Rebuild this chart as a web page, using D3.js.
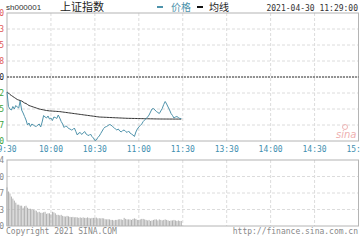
<!DOCTYPE html>
<html>
<head>
<meta charset="utf-8">
<script src="https://cdn.jsdelivr.net/npm/d3@7"></script>
<style>
body { margin: 0; background: #fff; }
</style>
</head>
<body>
<script>
// 上证指数 minute data, 9:30 - 11:29
var prevClose = 3474.90;
var priceTicks = ["3509.20", "3500.63", "3492.05", "3483.48", "3474.90", "3466.32", "3457.75", "3449.17", "3440.60"];
var timeLabels = ["9:30", "10:00", "10:30", "11:00", "11:30", "13:30", "14:00", "14:30", "15:00"];
var volTicks = [0, 338983, 677967, 1016950, 1355934];

var prices = [
    3466.86, 3459.09, 3457.75, 3457.21, 3459.09, 3457.75, 3459.62, 3458.82, 3458.28, 3462.04,
    3457.21, 3455.60, 3453.73, 3451.85, 3449.17, 3450.24, 3448.37, 3449.71, 3449.17, 3448.64,
    3448.37, 3449.17, 3449.71, 3448.10, 3450.78, 3454.26, 3453.46, 3452.92, 3454.00, 3452.39,
    3452.92, 3451.58, 3453.46, 3453.19, 3452.66, 3454.53, 3452.92, 3451.05, 3449.71, 3447.83,
    3448.64, 3448.37, 3447.30, 3447.03, 3446.49, 3446.76, 3447.56, 3445.69, 3443.81, 3444.88,
    3445.15, 3444.08, 3444.88, 3445.69, 3444.35, 3443.81, 3443.54, 3444.35, 3443.01, 3442.20,
    3440.86, 3441.13, 3442.47, 3443.28, 3444.62, 3445.96, 3447.30, 3448.10, 3448.37, 3448.90,
    3449.44, 3449.17, 3448.37, 3447.83, 3447.03, 3446.49, 3447.03, 3445.96, 3445.42, 3446.22,
    3446.49, 3445.69, 3445.15, 3445.96, 3444.88, 3444.35, 3443.81, 3443.01, 3445.42, 3447.03,
    3448.10, 3448.90, 3449.71, 3451.05, 3451.85, 3452.66, 3453.46, 3454.53, 3456.14, 3457.75,
    3458.02, 3457.21, 3456.41, 3455.87, 3455.34, 3456.68, 3458.02, 3460.16, 3461.77, 3460.43,
    3458.82, 3457.21, 3455.34, 3454.26, 3452.92, 3453.46, 3453.73, 3453.19, 3452.66, 3452.66
];

var avgPrices = [
    3466.86, 3466.32, 3465.52, 3464.98, 3464.45, 3463.91, 3463.38, 3462.84, 3462.57, 3462.30,
    3462.04, 3461.50, 3460.96, 3460.70, 3460.16, 3459.62, 3459.36, 3459.09, 3458.82, 3458.55,
    3458.28, 3458.02, 3457.75, 3457.59, 3457.43, 3457.27, 3457.10, 3456.94, 3456.84, 3456.73,
    3456.68, 3456.63, 3456.57, 3456.52, 3456.46, 3456.41, 3456.36, 3456.25, 3456.14, 3456.03,
    3455.93, 3455.82, 3455.71, 3455.60, 3455.50, 3455.39, 3455.28, 3455.18, 3455.07, 3454.96,
    3454.86, 3454.75, 3454.64, 3454.53, 3454.43, 3454.32, 3454.21, 3454.10, 3454.00, 3453.89,
    3453.78, 3453.67, 3453.57, 3453.46, 3453.42, 3453.38, 3453.35, 3453.31, 3453.27, 3453.24,
    3453.20, 3453.16, 3453.13, 3453.09, 3453.05, 3453.02, 3452.98, 3452.94, 3452.91, 3452.87,
    3452.83, 3452.80, 3452.76, 3452.74, 3452.73, 3452.71, 3452.69, 3452.68, 3452.66, 3452.64,
    3452.63, 3452.61, 3452.59, 3452.58, 3452.56, 3452.54, 3452.53, 3452.51, 3452.49, 3452.48,
    3452.46, 3452.44, 3452.43, 3452.41, 3452.40, 3452.39, 3452.39, 3452.38, 3452.38, 3452.37,
    3452.37, 3452.36, 3452.36, 3452.36, 3452.35, 3452.35, 3452.35, 3452.34, 3452.34, 3452.34
];

var volumes = [
    792700, 709200, 667500, 604900, 563200, 521500, 479800, 438100, 438100, 417200,
    417200, 375500, 406800, 417200, 375500, 354600, 354600, 344200, 333800, 323300,
    312900, 281600, 292000, 271200, 271200, 281600, 292000, 250300, 260800, 260800,
    239900, 292000, 281600, 260800, 229500, 229500, 219000, 229500, 208600, 198200,
    194000, 208600, 198200, 187700, 181500, 187700, 177300, 181500, 177300, 166900,
    177300, 166900, 177300, 166900, 166900, 177300, 166900, 156500, 166900, 166900,
    166900, 173100, 156500, 160600, 156500, 160600, 156500, 139800, 135600, 139800,
    135600, 125200, 125200, 114700, 125200, 125200, 135600, 139800, 135600, 125200,
    166900, 146000, 135600, 135600, 135600, 125200, 146000, 156500, 146000, 125200,
    125200, 135600, 146000, 146000, 135600, 125200, 114700, 125200, 104300, 114700,
    125200, 135600, 135600, 114700, 135600, 125200, 114700, 125200, 135600, 125200,
    114700, 104300, 114700, 114700, 125200, 114700, 104300, 114700, 104300, 104300
];

var canvas = d3.select("body").append("svg")
    .attr("width", 360)
    .attr("height", 240);

var left = 7, right = 358.5;
var priceTop = 13, priceBottom = 141;
var volTop = 160, volBottom = 226;
var monoFont = "DejaVu Sans Mono, monospace";
var priceColor = "#4f93ab";
var avgColor = "#333";

// 240 trading minutes across the width
var x = d3.scaleLinear().domain([0, 240]).range([left, right]);
var y = d3.scaleLinear()
    .domain([+priceTicks[8], +priceTicks[0]])
    .range([priceBottom, priceTop]);
var yVol = d3.scaleLinear()
    .domain([0, volTicks[4]])
    .range([volBottom, volTop]);

function drawGrid(top, bottom, rows){
    var h = (bottom - top) / rows;
    for (var r = 1; r < rows; r++) {
        canvas.append("line")
            .attr("x1", left).attr("x2", right)
            .attr("y1", top + r * h).attr("y2", top + r * h)
            .attr("stroke", "#dcdcdc")
            .attr("stroke-dasharray", "3,2");
    }
    for (var c = 1; c < 8; c++) {
        canvas.append("line")
            .attr("x1", x(c * 30)).attr("x2", x(c * 30))
            .attr("y1", top).attr("y2", bottom)
            .attr("stroke", "#dcdcdc")
            .attr("stroke-dasharray", "3,2");
    }
    canvas.append("rect")
        .attr("x", left).attr("y", top)
        .attr("width", right - left).attr("height", bottom - top)
        .attr("fill", "none")
        .attr("stroke", "#b4b4b4");
}

drawGrid(priceTop, priceBottom, 8);
drawGrid(volTop, volBottom, 4);

// previous close
canvas.append("line")
    .attr("x1", left).attr("x2", right)
    .attr("y1", y(prevClose)).attr("y2", y(prevClose))
    .attr("stroke", "#333")
    .attr("stroke-dasharray", "2,1");

// price axis, only the last digits fit on screen
canvas.selectAll(".ptick")
    .data(priceTicks)
    .enter().append("text")
    .attr("x", 4)
    .attr("y", function(d){ return y(+d) + 3; })
    .attr("text-anchor", "end")
    .attr("font-family", monoFont)
    .attr("font-size", 8)
    .attr("fill", function(d){
        if (+d > prevClose) return "#e05a5a";
        if (+d < prevClose) return "#3aa33a";
        return "#222";
    })
    .text(function(d){ return d; });

canvas.selectAll(".vtick")
    .data(volTicks)
    .enter().append("text")
    .attr("x", 4)
    .attr("y", function(d){ return yVol(d) + 3; })
    .attr("text-anchor", "end")
    .attr("font-family", monoFont)
    .attr("font-size", 8)
    .attr("fill", "#888")
    .text(function(d){ return String(d); });

canvas.selectAll(".tlabel")
    .data(timeLabels)
    .enter().append("text")
    .attr("x", function(d, i){ return x(i * 30); })
    .attr("y", 152)
    .attr("text-anchor", "middle")
    .attr("font-family", monoFont)
    .attr("font-size", 8)
    .attr("fill", "#3f8fb0")
    .text(function(d){ return d; });

// volume bars
canvas.selectAll(".vol")
    .data(volumes)
    .enter().append("rect")
    .attr("x", function(d, i){ return x(i) - 0.5; })
    .attr("y", function(d){ return yVol(d); })
    .attr("width", 1)
    .attr("height", function(d){ return volBottom - yVol(d); })
    .attr("fill", "#b0b0b0");

var line = d3.line()
    .x(function(d, i){ return x(i); })
    .y(function(d){ return y(d); });

canvas.append("path")
    .datum(avgPrices)
    .attr("d", line)
    .attr("fill", "none")
    .attr("stroke", avgColor)
    .attr("stroke-width", 1);

canvas.append("path")
    .datum(prices)
    .attr("d", line)
    .attr("fill", "none")
    .attr("stroke", priceColor)
    .attr("stroke-width", 1);

// header
canvas.append("text")
    .attr("x", 6).attr("y", 10)
    .attr("font-family", "Liberation Sans, Arial, sans-serif")
    .attr("font-size", 8)
    .attr("fill", "#333")
    .text("sh000001");

canvas.append("text")
    .attr("x", 60).attr("y", 11)
    .attr("font-family", "Noto Sans CJK SC, sans-serif")
    .attr("font-size", 11)
    .attr("fill", "#222")
    .text("上证指数");

canvas.append("rect")
    .attr("x", 157).attr("y", 6)
    .attr("width", 6).attr("height", 2)
    .attr("fill", priceColor);
canvas.append("text")
    .attr("x", 171).attr("y", 11)
    .attr("font-family", "Noto Sans CJK SC, sans-serif")
    .attr("font-size", 10)
    .attr("fill", priceColor)
    .text("价格");

canvas.append("rect")
    .attr("x", 197).attr("y", 6)
    .attr("width", 6).attr("height", 2)
    .attr("fill", "#111");
canvas.append("text")
    .attr("x", 209).attr("y", 11)
    .attr("font-family", "Noto Sans CJK SC, sans-serif")
    .attr("font-size", 10)
    .attr("fill", "#222")
    .text("均线");

canvas.append("text")
    .attr("x", 358).attr("y", 11)
    .attr("text-anchor", "end")
    .attr("font-family", monoFont)
    .attr("font-size", 8)
    .attr("fill", "#333")
    .text("2021-04-30 11:29:00");

// watermark
canvas.append("circle")
    .attr("cx", 345).attr("cy", 127)
    .attr("r", 2.5)
    .attr("fill", "none")
    .attr("stroke", "#efb5b5");
canvas.append("text")
    .attr("x", 336).attr("y", 138)
    .attr("font-family", "DejaVu Sans, sans-serif")
    .attr("font-size", 10)
    .attr("font-style", "italic")
    .attr("fill", "#eeb0b0")
    .text("sina");

// footer
canvas.append("text")
    .attr("x", 6).attr("y", 234)
    .attr("font-family", monoFont)
    .attr("font-size", 8)
    .attr("fill", "#888")
    .text("Copyright 2021 SINA.COM");

canvas.append("text")
    .attr("x", 358).attr("y", 234)
    .attr("text-anchor", "end")
    .attr("font-family", monoFont)
    .attr("font-size", 8)
    .attr("fill", "#888")
    .text("http://finance.sina.com.cn");
</script>
</body>
</html>
